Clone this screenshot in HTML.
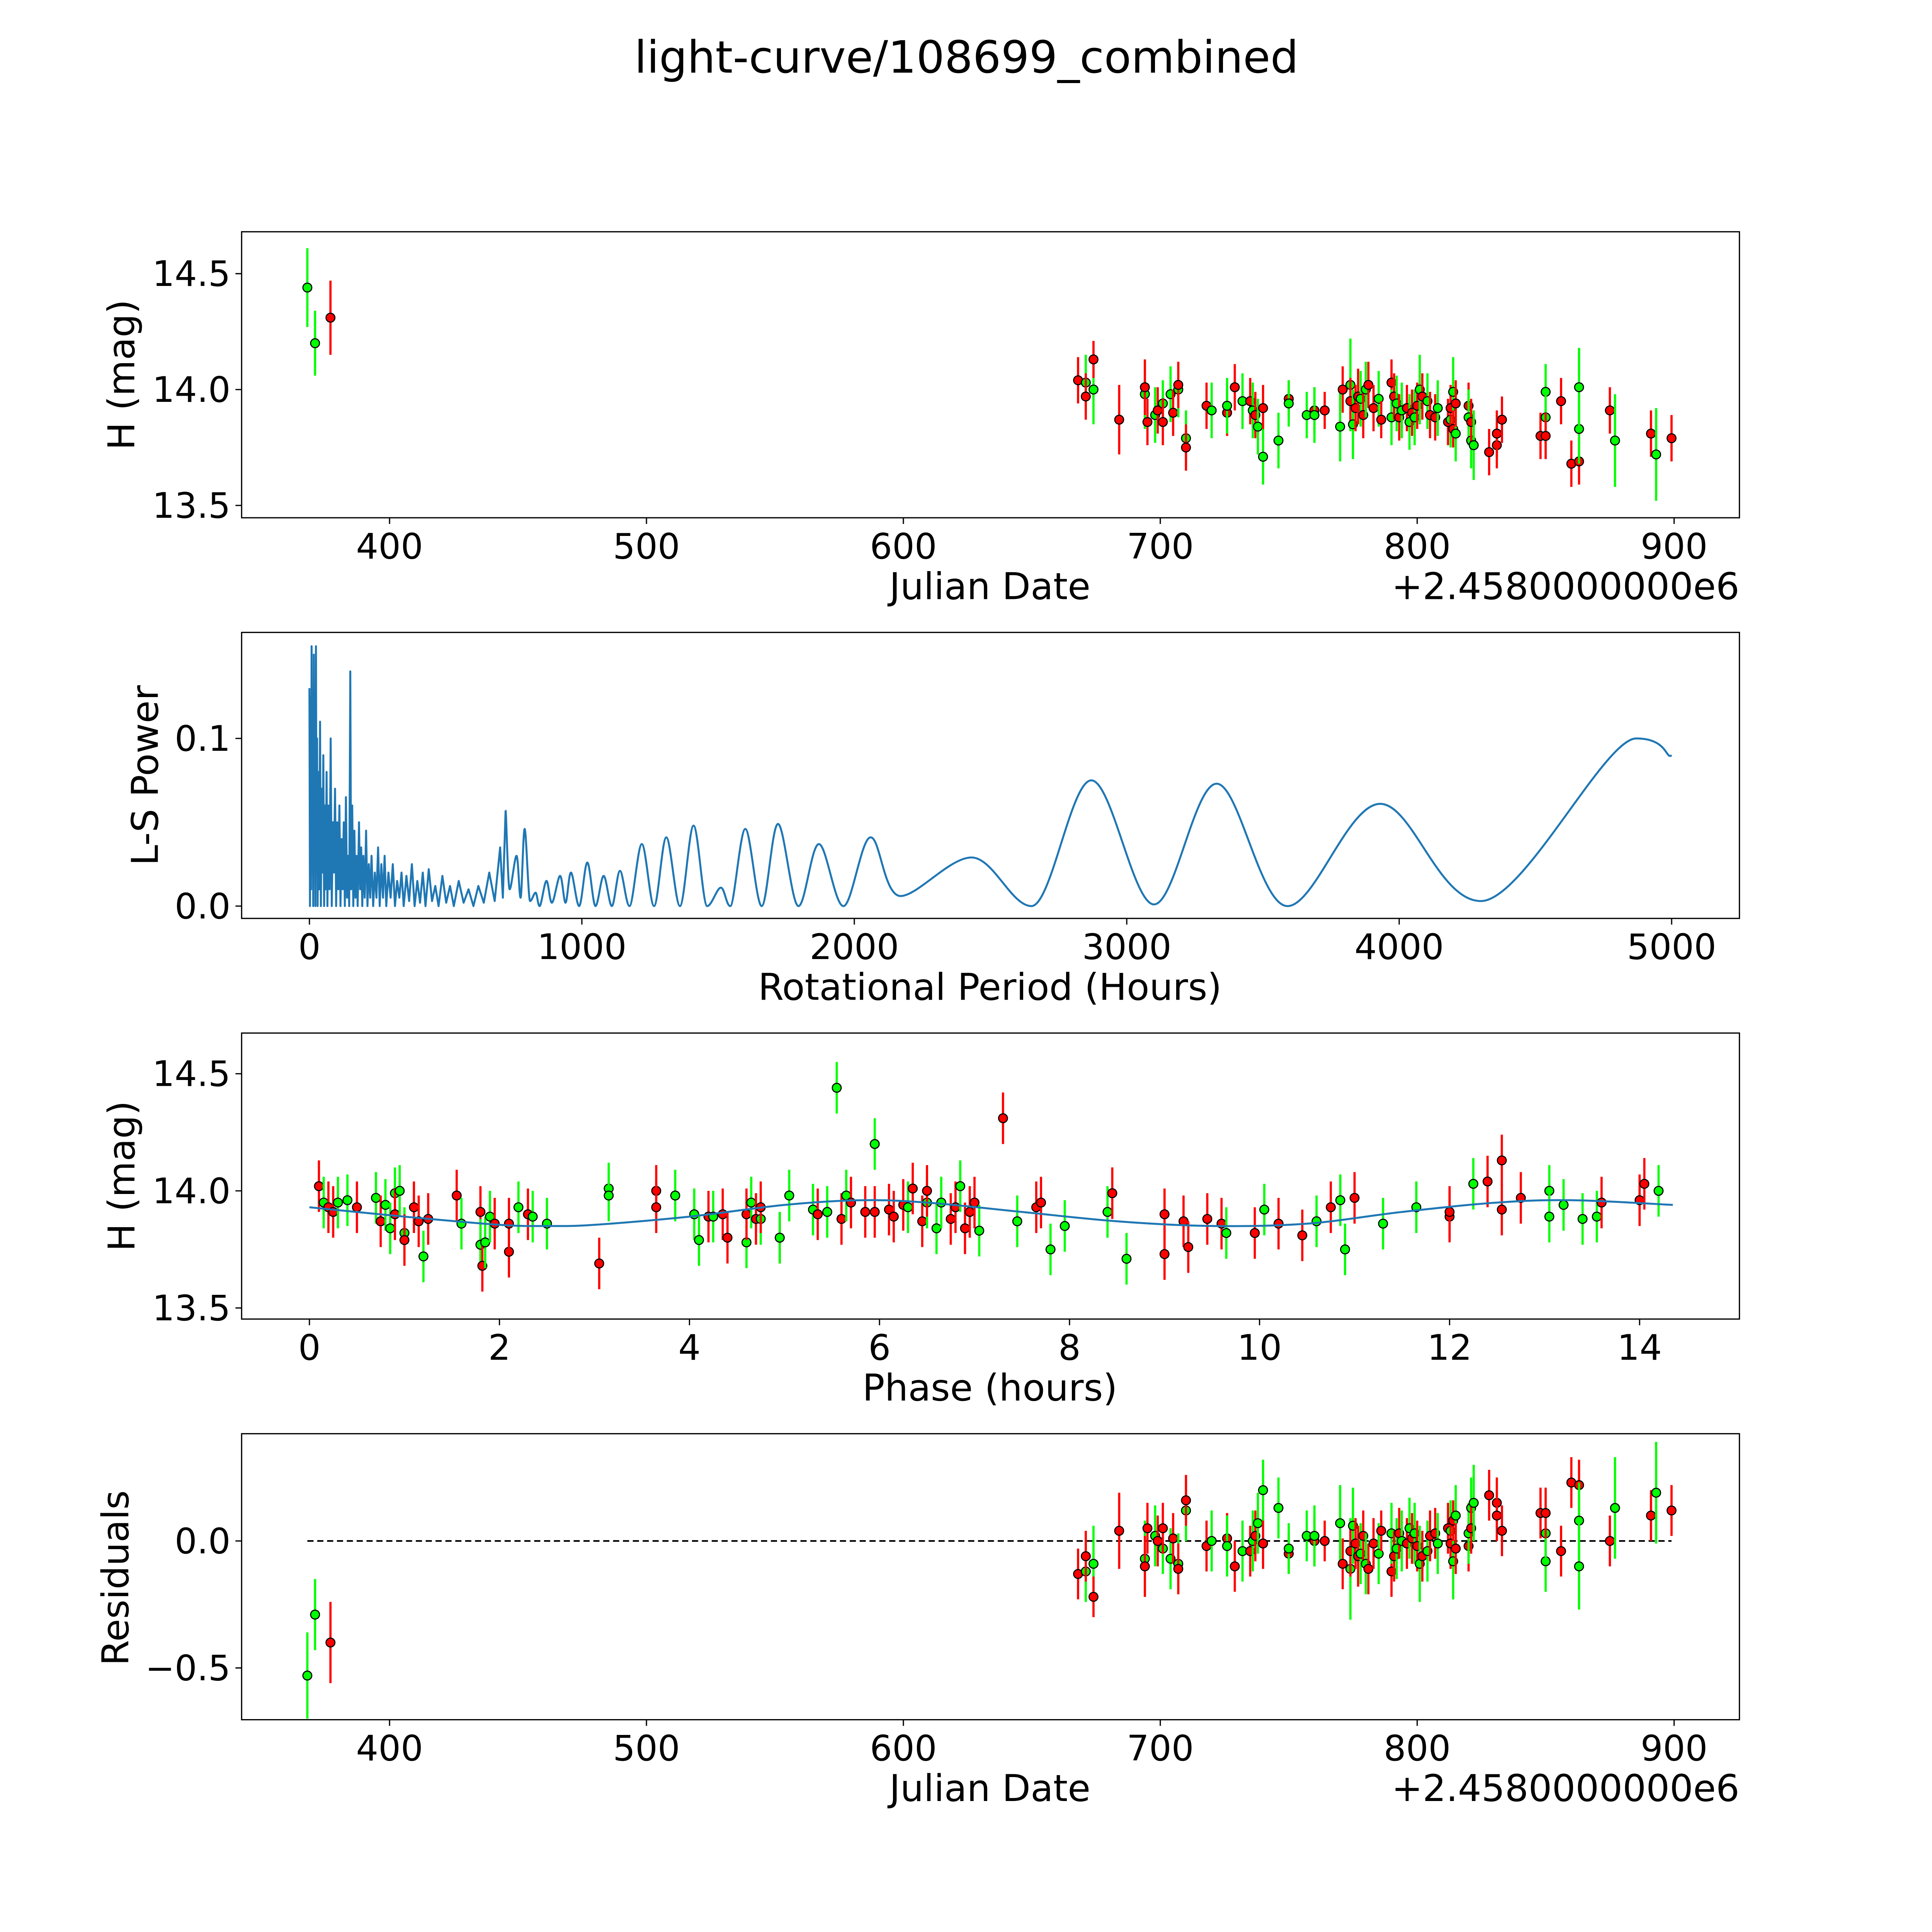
<!DOCTYPE html>
<html><head><meta charset="utf-8"><style>
html,body{margin:0;padding:0;background:#fff;width:4977px;height:4977px;overflow:hidden;}
svg{display:block;position:absolute;left:0;top:0;width:4977px;height:4977px;font-family:"DejaVu Sans","Liberation Sans",sans-serif;}
</style></head><body>
<svg id="root" width="4977" height="4977" xmlns="http://www.w3.org/2000/svg">
<rect width="4977" height="4977" fill="#fff"/>
<g id="fig" transform="scale(3.1904)">
<text x="784" y="59" font-size="36" text-anchor="middle">light-curve/108699_combined</text>
</g>
</svg>
<script>
// ---------- data ----------
const lcColor = ['g','g','r','r','g','r','g','r','r','g','r','r','g','r','g','r','g','r','g','r','g','r','r','g','r','g','r','g','r','g','r','g','r','g','g','r','g','g','r','g','r','g','r','g','r','g','r','r','g','r','g','r','r','g','r','r','g','r','g','r','g','r','g','r','g','r','g','r','g','r','r','g','r','g','r','g','r','g','r','r','g','g','r','g','r','r','r','r','r','g','g','r','r','r','r','g','g','r','g','r','g','r'];
const lcJD = [368,371,377,668,671,671,674,674,684,694,694,695,698,699,701,701,704,705,707,707,710,710,718,720,726,726,729,732,735,736,737,738,740,740,746,750,750,757,760,760,764,770,771,774,774,775,776,777,778,779,780,781,783,785,786,790,790,791,792,793,794,796,797,798,799,800,801,802,804,805,807,808,812,813,813,814,814,815,815,820,820,821,821,822,828,831,831,833,848,850,850,850,856,860,863,863,863,875,877,891,893,899];
const lcMag = [14.44,14.20,14.31,14.04,14.03,13.97,14.00,14.13,13.87,13.98,14.01,13.86,13.89,13.91,13.94,13.86,13.98,13.90,14.00,14.02,13.79,13.75,13.93,13.91,13.90,13.93,14.01,13.95,13.95,13.91,13.89,13.84,13.92,13.71,13.78,13.96,13.94,13.89,13.91,13.89,13.91,13.84,14.00,14.02,13.95,13.85,13.92,13.97,13.96,13.89,14.00,14.02,13.92,13.96,13.87,14.03,13.88,13.97,13.94,13.88,13.91,13.92,13.86,13.90,13.88,13.93,14.00,13.97,13.95,13.89,13.88,13.92,13.86,13.87,13.92,13.99,13.83,13.81,13.94,13.93,13.88,13.78,13.86,13.76,13.73,13.76,13.81,13.87,13.80,13.99,13.88,13.80,13.95,13.68,13.69,13.83,14.01,13.91,13.78,13.81,13.72,13.79];
const lcErr = [0.17,0.14,0.16,0.1,0.12,0.1,0.15,0.08,0.15,0.15,0.12,0.1,0.12,0.1,0.1,0.1,0.12,0.1,0.12,0.1,0.12,0.1,0.1,0.12,0.1,0.12,0.1,0.12,0.1,0.12,0.1,0.12,0.1,0.12,0.12,0.08,0.1,0.1,0.1,0.12,0.08,0.15,0.1,0.2,0.1,0.15,0.1,0.12,0.12,0.1,0.12,0.1,0.1,0.12,0.08,0.1,0.12,0.1,0.12,0.1,0.12,0.1,0.12,0.1,0.12,0.1,0.15,0.1,0.12,0.1,0.1,0.12,0.1,0.12,0.1,0.15,0.08,0.12,0.1,0.1,0.12,0.12,0.1,0.15,0.1,0.1,0.1,0.1,0.1,0.12,0.12,0.1,0.1,0.1,0.1,0.15,0.17,0.1,0.2,0.1,0.2,0.1];
const residRef = 13.91;

const phColor = ['r','g','r','r','g','g','r','g','r','g','g','g','r','g','g','r','r','r','g','r',
 'r','g','r','g','r','g','g','r','r','r','g','r','g','g',
 'r','g','g','r','r','g','g','g','r','g','r','r','g','r','g','r','g','r','r','g','g',
 'g','r','g','g','r','g','r','r','g','r','r','r','r','g','r','r','g','r','g','g','r','r','g','r','r','r','g','r','g','r','r','g','g',
 'g','r','g','r','r','r','r','r','r','g','r','g','r','r','g','r','g','g','r','g','g',
 'r','r','g','r','r','r','r','g','g','g','g','g','r','r','r','g'];
const phPhase = [0.1,0.15,0.2,0.25,0.3,0.4,0.5,0.7,0.75,0.8,0.85,0.9,0.9,0.95,1.0,1.0,1.1,1.15,1.2,1.25,1.55,1.6,1.8,1.8,1.82,1.85,1.9,1.95,2.1,2.1,2.2,2.3,2.35,2.5,3.05,3.15,3.15,3.65,3.65,3.85,4.05,4.1,4.2,4.25,4.35,4.4,4.6,4.6,4.65,4.7,4.75,4.75,4.95,4.95,5.05,5.3,5.35,5.45,5.55,5.6,5.65,5.7,5.85,5.95,5.95,6.1,6.15,6.25,6.3,6.35,6.45,6.5,6.5,6.6,6.65,6.75,6.8,6.85,6.9,6.95,7.0,7.05,7.3,7.45,7.65,7.7,7.8,7.95,8.4,8.45,8.6,9.0,9.0,9.2,9.25,9.45,9.6,9.65,9.95,10.05,10.2,10.45,10.6,10.75,10.85,10.9,11.0,11.3,11.65,12.0,12.0,12.25,12.4,12.55,12.55,12.75,13.05,13.05,13.2,13.4,13.55,13.6,14.0,14.05,14.2];
const phMag = [14.02,13.95,13.93,13.91,13.95,13.96,13.93,13.97,13.87,13.94,13.84,13.99,13.90,14.00,13.82,13.79,13.93,13.87,13.72,13.88,13.98,13.86,13.91,13.77,13.68,13.78,13.89,13.86,13.74,13.86,13.93,13.90,13.89,13.86,13.69,14.01,13.98,14.00,13.93,13.98,13.90,13.79,13.89,13.89,13.90,13.80,13.78,13.90,13.95,13.88,13.88,13.93,13.80,13.80,13.98,13.92,13.90,13.91,14.44,13.88,13.98,13.95,13.91,14.20,13.91,13.92,13.89,13.94,13.93,14.01,13.87,13.95,14.00,13.84,13.95,13.88,13.93,14.02,13.84,13.91,13.95,13.83,14.31,13.87,13.93,13.95,13.75,13.85,13.91,13.99,13.71,13.90,13.73,13.87,13.76,13.88,13.86,13.82,13.82,13.92,13.86,13.81,13.87,13.93,13.96,13.75,13.97,13.86,13.93,13.89,13.91,14.03,14.04,14.13,13.92,13.97,14.00,13.89,13.94,13.88,13.89,13.95,13.96,14.03,14.00];
const phErr = 0.11;
const modelPhase = [0,1,2,2.5,3,4,5,5.8,6.5,7.5,8.5,9.5,10.5,11.5,12.5,13.3,14.35];
const modelMag = [13.93,13.89,13.855,13.85,13.855,13.89,13.94,13.96,13.95,13.91,13.87,13.85,13.86,13.91,13.95,13.96,13.94];

const spikePeriod = [0,2,4,6,8,10,12,14,16,18,20,22,24,26,28,30,33,36,39,42,45,48,51,54,57,60,63,66,70,74,78,82,86,90,94,98,102,106,110,114,118,122,126,130,134,138,142,146,150,153,157,161,165,169,173,177,182,186,190,194,198,203,208,213,218,223,228,234,240,246,252,258,264,270,276,282,290,298,306,314,322,330,338,346,356,366,376,386,396,406,416,426,438,450,462,474,488,502,516,530,548,566,584,602,620,640,660,680,700,710,720];
const spikePower = [0.13,0,0.125,0.01,0.155,0.02,0.11,0,0.15,0.03,0.09,0,0.155,0.02,0.1,0,0.08,0.01,0.11,0,0.07,0.02,0.09,0,0.06,0.01,0.08,0,0.06,0.01,0.1,0,0.05,0.02,0.07,0,0.05,0.01,0.06,0,0.04,0.01,0.05,0,0.065,0.005,0.03,0,0.14,0.01,0.06,0,0.045,0.005,0.03,0,0.05,0.01,0.035,0,0.03,0.005,0.045,0,0.025,0.005,0.03,0,0.02,0.005,0.035,0,0.025,0.005,0.03,0,0.02,0.005,0.025,0,0.015,0.005,0.02,0,0.018,0.003,0.025,0,0.015,0.002,0.02,0,0.022,0.003,0.012,0,0.018,0.002,0.012,0,0.015,0.002,0.01,0,0.012,0.002,0.02,0.003,0.035,0.005,0.057];
const smoothPeriod = [720,735,760,775,790,810,830,845,870,890,920,940,960,990,1020,1050,1080,1110,1140,1175,1220,1265,1310,1360,1410,1460,1510,1545,1600,1660,1720,1795,1870,1960,2060,2170,2430,2650,2870,3100,3330,3590,3930,4300,4870,5000];
const smoothPower = [0.057,0.01,0.03,0.005,0.046,0.003,0.008,0,0.015,0.002,0.018,0.002,0.02,0,0.026,0,0.018,0,0.021,0,0.037,0,0.041,0,0.048,0,0.011,0,0.046,0,0.049,0,0.037,0,0.041,0.006,0.029,0,0.075,0.001,0.073,0,0.061,0.003,0.1,0.09];

// ---------- helpers ----------
const svg = document.getElementById('fig');
const NS = 'http://www.w3.org/2000/svg';
function mk(tag, attrs, parent){const e=document.createElementNS(NS,tag);for(const k in attrs)e.setAttribute(k,attrs[k]);(parent||svg).appendChild(e);return e;}
function lin(d0,d1,r0,r1){return v=>r0+(v-d0)*(r1-r0)/(d1-d0);}
const L=196,R=1411;
const COL={g:'#00ff00',r:'#ff0000'};
const TF=28.5, LF=30;

function frame(top,bot,name,xt,xs,yt,ys,fmtx,fmty){
  const g=mk('g',{});
  
  
  xt.forEach(v=>{const x=xs(v);mk('line',{x1:x,x2:x,y1:bot,y2:bot+5,stroke:'#000','stroke-width':1},g);
    const t=mk('text',{x:x,y:bot+33,'font-size':TF,'text-anchor':'middle'},g);t.textContent=fmtx(v);
    
    });
  yt.forEach(v=>{const y=ys(v);mk('line',{x1:L-5,x2:L,y1:y,y2:y,stroke:'#000','stroke-width':1},g);
    const t=mk('text',{x:L-9,y:y+10,'font-size':TF,'text-anchor':'end'},g);t.textContent=fmty(v);
    
    });
  return g;
}
function border(top,bot){mk('rect',{x:L,y:top,width:R-L,height:bot-top,fill:'none',stroke:'#000','stroke-width':1});}
function label(txt,x,y,rot,name){const t=mk('text',{x:x,y:y,'font-size':LF,'text-anchor':'middle',transform:rot?`rotate(-90 ${x} ${y})`:''});t.textContent=txt;
  
  return t;}
function point(x,y,y1,y2,c,name){
  const g=mk('g',{});
  
  
  mk('line',{x1:x,x2:x,y1:y1,y2:y2,stroke:COL[c]||'#00ff00','stroke-width':1.8},g);
  mk('circle',{cx:x,cy:y,r:3.6,fill:COL[c]||'#00ff00',stroke:'#000','stroke-width':0.9},g);
}
const fmt1=v=>v.toFixed(1).replace('-','\u2212');

// ---------- panel 1 ----------
const x1=lin(400,900,316,1358), y1=lin(14.0,14.5,316,222);
frame(188,420,'panel-lightcurve',[400,500,600,700,800,900],x1,[13.5,14.0,14.5],y1,v=>v,fmt1);
lcJD.forEach((d,i)=>point(x1(d),y1(lcMag[i]),y1(lcMag[i]-lcErr[i]),y1(lcMag[i]+lcErr[i]),lcColor[i],'lightcurve-point'));
border(188,420);
label('Julian Date',803,486,false,'x-axis-title-1');
{const t=mk('text',{x:R,y:486,'font-size':LF,'text-anchor':'end'});t.textContent='+2.4580000000e6';
 
 }
label('H (mag)',109,304,true,'y-axis-title-1');

// ---------- panel 2 ----------
const x2=lin(0,5000,251,1356), y2=lin(0,0.1,735,599);
frame(513,745,'panel-periodogram',[0,1000,2000,3000,4000,5000],x2,[0,0.1],y2,v=>String(v),fmt1);
{let d='';spikePeriod.forEach((p,i)=>{d+=(i?'L':'M')+x2(p).toFixed(2)+' '+y2(spikePower[i]).toFixed(2);});
 const e=mk('path',{d:d,fill:'none',stroke:'#1f77b4','stroke-width':1.6,'stroke-linejoin':'round'});
 
 }
{const P=smoothPeriod.map((p,i)=>[x2(p),y2(smoothPower[i])]);
 let d='M'+P[0][0]+' '+P[0][1];
 for(let i=0;i<P.length-1;i++){const p0=P[Math.max(0,i-1)],p1=P[i],p2=P[i+1],p3=P[Math.min(P.length-1,i+2)];
  let c1=[p1[0]+(p2[0]-p0[0])/6,p1[1]],c2=[p2[0]-(p3[0]-p1[0])/6,p2[1]];
  if(i==P.length-2){c2[1]=p2[1]+(p2[1]-p1[1])*0.3;}
  d+=`C${c1[0]} ${c1[1]} ${c2[0]} ${c2[1]} ${p2[0]} ${p2[1]}`;}
 const e=mk('path',{d:d,fill:'none',stroke:'#1f77b4','stroke-width':1.6});
 
 }
border(513,745);
label('Rotational Period (Hours)',803,811,false,'x-axis-title-2');
label('L-S Power',128,629,true,'y-axis-title-2');

// ---------- panel 3 ----------
const x3=lin(0,14,251,1330), y3=lin(14.0,14.5,966,871);
frame(838,1070,'panel-phase',[0,2,4,6,8,10,12,14],x3,[13.5,14.0,14.5],y3,v=>String(v),fmt1);
phPhase.forEach((p,i)=>point(x3(p),y3(phMag[i]),y3(phMag[i]-phErr),y3(phMag[i]+phErr),phColor[i],'phase-point'));
{const P=modelPhase.map((p,i)=>[x3(p),y3(modelMag[i])]);
 let d='M'+P[0][0]+' '+P[0][1];
 for(let i=0;i<P.length-1;i++){const p0=P[Math.max(0,i-1)],p1=P[i],p2=P[i+1],p3=P[Math.min(P.length-1,i+2)];
  d+=`C${p1[0]+(p2[0]-p0[0])/6} ${p1[1]+(p2[1]-p0[1])/6} ${p2[0]-(p3[0]-p1[0])/6} ${p2[1]-(p3[1]-p1[1])/6} ${p2[0]} ${p2[1]}`;}
 const e=mk('path',{d:d,fill:'none',stroke:'#1f77b4','stroke-width':1.6});
 
 }
border(838,1070);
label('Phase (hours)',803,1136,false,'x-axis-title-3');
label('H (mag)',109,954,true,'y-axis-title-3');

// ---------- panel 4 ----------
const y4=lin(0,-0.5,1250,1353);
frame(1163,1395,'panel-residuals',[400,500,600,700,800,900],x1,[-0.5,0],y4,v=>v,fmt1);
{const e=mk('line',{x1:x1(368),x2:x1(899),y1:y4(0),y2:y4(0),stroke:'#000','stroke-width':1.3,'stroke-dasharray':'5,3'});
 
 }
lcJD.forEach((d,i)=>{const r=residRef-lcMag[i];point(x1(d),y4(r),y4(r-lcErr[i]),y4(r+lcErr[i]),lcColor[i],'residual-point');});
border(1163,1395);
label('Julian Date',803,1461,false,'x-axis-title-4');
{const t=mk('text',{x:R,y:1461,'font-size':LF,'text-anchor':'end'});t.textContent='+2.4580000000e6';
 
 }
label('Residuals',104,1280,true,'y-axis-title-4');
</script>
</body></html>
